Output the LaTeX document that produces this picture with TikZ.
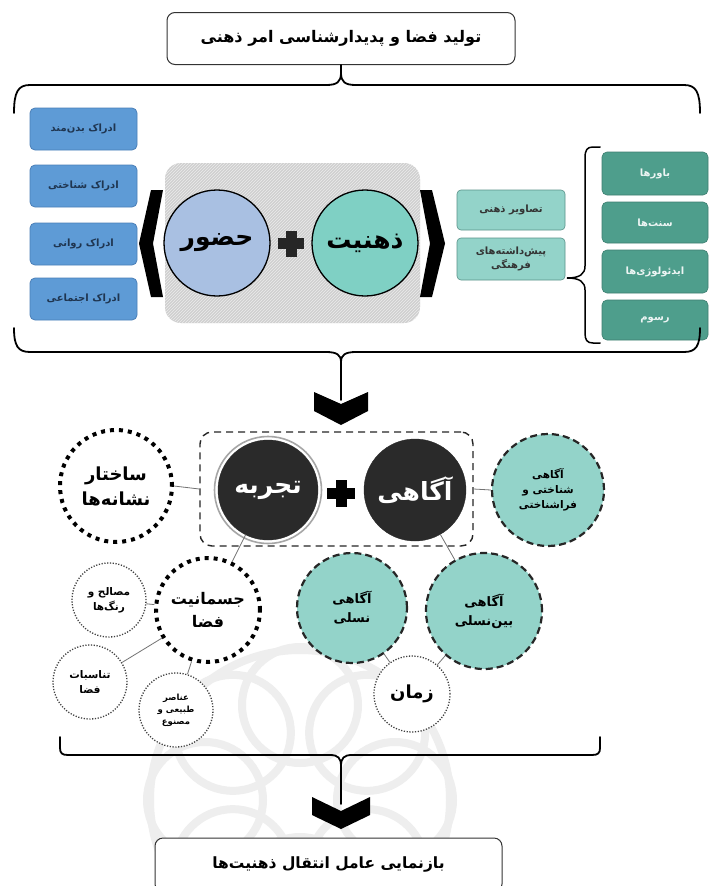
\documentclass[tikz,border=0pt]{standalone}
\usepackage{fontspec}
\TeXXeTstate=1
\newfontfamily\arabicfont[Script=Arabic]{DejaVu Sans}
\usetikzlibrary{patterns}
\newcommand{\fa}[1]{{\arabicfont\beginR #1\endR}}
\newcommand{\fab}[1]{{\arabicfont\bfseries\beginR #1\endR}}
\definecolor{bluef}{HTML}{5E9BD6}
\definecolor{blued}{HTML}{4A7FB8}
\definecolor{navy}{HTML}{1F3550}
\definecolor{hozurc}{HTML}{A9C0E2}
\definecolor{tealc}{HTML}{7FD0C4}
\definecolor{tealm}{HTML}{93D3C9}
\definecolor{teald}{HTML}{4E9E8C}
\definecolor{darkc}{HTML}{2A2A2A}
\tikzset{
  titlebox/.style={draw=black!80, line width=1pt, rounded corners=8pt, fill=white, inner sep=0pt, minimum width=348pt, minimum height=52pt, font=\fontsize{16}{18}\selectfont},
  bluebox/.style={draw=blued, line width=0.8pt, fill=bluef, rounded corners=5pt, inner sep=0pt, minimum width=107pt, minimum height=42pt, text=navy, font=\fontsize{10}{11}\selectfont},
  midbox/.style={draw=tealc!70!black, line width=0.6pt, fill=tealm, rounded corners=4pt, inner sep=0pt, minimum width=108pt, minimum height=40pt, text=black!80, align=center, font=\fontsize{10}{14}\selectfont},
  rightbox/.style={draw=teald!80!black, line width=0.6pt, fill=teald, rounded corners=5pt, inner sep=0pt, minimum width=106pt, minimum height=42pt, text=white!90!teald, font=\fontsize{10}{11}\selectfont},
  bigcirc/.style={circle, draw=black, line width=1.3pt, inner sep=0pt, font=\fontsize{25}{27}\selectfont},
  darkcirc/.style={circle, fill=darkc, draw=darkc, inner sep=0pt, text=white, font=\fontsize{25}{27}\selectfont},
  squaredots/.style={circle, draw=black, line width=4pt, dash pattern=on 4pt off 5pt, fill=white, inner sep=0pt, align=center},
  finedots/.style={circle, draw=black!75, line width=1.3pt, dash pattern=on 1.2pt off 1.6pt, fill=white, inner sep=0pt, align=center},
  tealdash/.style={circle, draw=black!85, line width=2.2pt, dash pattern=on 7pt off 4pt, fill=tealm, inner sep=0pt, align=center},
  conn/.style={draw=black!55, line width=0.8pt},
  bracestyle/.style={draw=black, line width=1.8pt, line cap=round},
}
\begin{document}
\begin{tikzpicture}[x=1pt,y=-1pt]
\useasboundingbox (0,0) rectangle (712,886);
\fill[white] (0,0) rectangle (712,886);
% faint watermark
\begin{scope}
\clip (0,560) rectangle (712,886);
\foreach \a in {0,45,...,315}{
  \draw[gray!13, line width=8pt] ({300+95*cos(\a)},{800+95*sin(\a)}) circle (58);
}
\draw[gray!13, line width=8pt] (300,800) circle (150);
\end{scope}

% ---------- title ----------
\node[titlebox] (title) at (341,38.5) {\fab{تولید فضا و پدیدارشناسی امر ذهنی}};
\coordinate (toptip) at (341,73);
\draw[bracestyle] (title.south) -- (toptip);
\draw[bracestyle] (14,113) .. controls (14,92) and (18,85) .. (30,85) -- (326,85) .. controls (337,85) and (341,82) .. (toptip)
      .. controls (341,82) and (345,85) .. (356,85) -- (684,85) .. controls (696,85) and (700,92) .. (700,113);

% ---------- left blue boxes ----------
\node[bluebox] (b1) at (83.5,129) {\fab{ادراک بدن‌مند}};
\node[bluebox] (b2) at (83.5,186) {\fab{ادراک شناختی}};
\node[bluebox] (b3) at (83.5,244) {\fab{ادراک روانی}};
\node[bluebox] (b4) at (83.5,299) {\fab{ادراک اجتماعی}};

% ---------- hatched group ----------
\fill[gray!38, rounded corners=16pt] (165,163) rectangle (420,323);
\path[pattern=north east lines, pattern color=white!85!gray, rounded corners=16pt] (165,163) rectangle (420,323);
\fill[black] (163,190) -- (151,190) -- (139,243.5) -- (151,297) -- (163,297) -- (153,243.5) -- cycle;
\fill[black] (420,190) -- (432,190) -- (445,243.5) -- (432,297) -- (420,297) -- (430,243.5) -- cycle;
\node[bigcirc, fill=hozurc, minimum size=106pt] (hozur) at (217,243) {\fab{حضور}};
\node[bigcirc, fill=tealc, minimum size=106pt] (zehn) at (365,243) {\fab{ذهنیت}};
\fill[black!85] (278,238) rectangle (304,249);
\fill[black!85] (285.5,230.5) rectangle (296.5,256.5);

% ---------- middle boxes ----------
\node[midbox] (m1) at (511,210) {\fab{تصاویر ذهنی}};
\node[midbox, minimum height=42pt] (m2) at (511,259) {\fab{پیش‌داشته‌های}\\\fab{فرهنگی}};

% ---------- right brace and boxes ----------
\coordinate (rtip) at (567,278);
\draw[bracestyle, line width=1.5pt] (600,147) -- (593,147) .. controls (587,147) and (585,150) .. (585,158) -- (585,266)
   .. controls (585,274) and (580,278) .. (rtip) .. controls (580,278) and (585,282) .. (585,290) -- (585,333)
   .. controls (585,340) and (587,343) .. (593,343) -- (600,343);
\node[rightbox, minimum height=43pt] (r1) at (655,173.5) {\fab{باورها}};
\node[rightbox, minimum height=41pt] (r2) at (655,222.5) {\fab{سنت‌ها}};
\node[rightbox, minimum height=43pt] (r3) at (655,271.5) {\fab{ایدئولوژی‌ها}};
\node[rightbox, minimum height=40pt] (r4) at (655,320) {\fab{رسوم}};

% ---------- lower brace of first part + arrow ----------
\coordinate (midtip) at (341,362);
\draw[bracestyle] (14,328) .. controls (14,346) and (18,352) .. (30,352) -- (326,352) .. controls (337,352) and (341,355) .. (midtip)
      .. controls (341,355) and (345,352) .. (356,352) -- (684,352) .. controls (696,352) and (700,346) .. (700,328);
\coordinate (chev1) at (341,400);
\draw[bracestyle] (midtip) -- (chev1);
\fill[black] (314,392) -- (341,404) -- (368,392) -- (368,411) -- (341,425) -- (314,411) -- cycle;

% ---------- second part ----------
\node[draw=black!85, line width=1.4pt, dash pattern=on 7pt off 5pt, rounded corners=12pt, minimum width=273pt, minimum height=114pt, inner sep=0pt] (grp) at (336.5,489) {};
\draw[gray!70, line width=1.6pt] (268,490) circle (53.5);
\node[darkcirc, minimum size=100pt] (tajrobe) at (268,490) {\fab{تجربه}};
\node[darkcirc, minimum size=102pt] (agahi) at (415,490) {\fab{آگاهی}};
\fill[black] (327,488) rectangle (355,499);
\fill[black] (335.5,480) rectangle (346.5,507);

\node[squaredots, minimum size=112pt, font=\fontsize{18}{25}\selectfont] (sakhtar) at (116,486) {\fab{ساختار}\\\fab{نشانه‌ها}};
\node[tealdash, minimum size=112pt, font=\fontsize{10.5}{15}\selectfont] (shenakhti) at (548,490) {\fab{آگاهی}\\\fab{شناختی و}\\\fab{فراشناختی}};
\draw[conn] (sakhtar.east) -- (grp.west);
\draw[conn] (grp.east) -- (shenakhti.west);

\node[squaredots, minimum size=104pt, font=\fontsize{16}{23}\selectfont] (jesm) at (208,610) {\fab{جسمانیت}\\\fab{فضا}};
\node[finedots, minimum size=74pt, font=\fontsize{10.5}{15}\selectfont] (masaleh) at (109,600) {\fab{مصالح و}\\\fab{رنگ‌ها}};
\node[finedots, minimum size=74pt, font=\fontsize{10.5}{15}\selectfont] (tanasob) at (90,682) {\fab{تناسبات}\\\fab{فضا}};
\node[finedots, minimum size=74pt, font=\fontsize{8.5}{12}\selectfont] (anaser) at (176,710) {\fab{عناصر}\\\fab{طبیعی و}\\\fab{مصنوع}};
\draw[conn] (tajrobe) -- (jesm);
\draw[conn] (jesm) -- (masaleh);
\draw[conn] (jesm) -- (tanasob);
\draw[conn] (jesm) -- (anaser);

\node[tealdash, minimum size=110pt, font=\fontsize{13}{19}\selectfont] (nasli) at (352,608) {\fab{آگاهی}\\\fab{نسلی}};
\node[tealdash, minimum size=116pt, font=\fontsize{13}{19}\selectfont] (beyn) at (484,611) {\fab{آگاهی}\\\fab{بین‌نسلی}};
\node[finedots, minimum size=76pt, font=\fontsize{18}{20}\selectfont] (zaman) at (412,694) {\fab{زمان}};
\draw[conn] (agahi) -- (beyn);
\draw[conn] (zaman) -- (beyn);
\draw[conn] (zaman) -- (nasli);

% ---------- bottom brace + arrow ----------
\coordinate (bottip) at (341,766);
\draw[bracestyle] (60,737) -- (60,748) .. controls (60,753) and (62,755) .. (68,755) -- (330,755) .. controls (338,755) and (341,758) .. (bottip)
      .. controls (341,758) and (344,755) .. (352,755) -- (592,755) .. controls (598,755) and (600,753) .. (600,748) -- (600,737);
\coordinate (chev2) at (341,804);
\draw[bracestyle] (bottip) -- (chev2);
\fill[black] (312,797) -- (341,811) -- (370,797) -- (370,815) -- (341,829) -- (312,815) -- cycle;

\node[titlebox, minimum width=347pt, minimum height=54pt, font=\fontsize{15.5}{17}\selectfont] (final) at (328.5,865) {\raisebox{4pt}{\fab{بازنمایی عامل انتقال ذهنیت‌ها}}};
\end{tikzpicture}
\end{document}
